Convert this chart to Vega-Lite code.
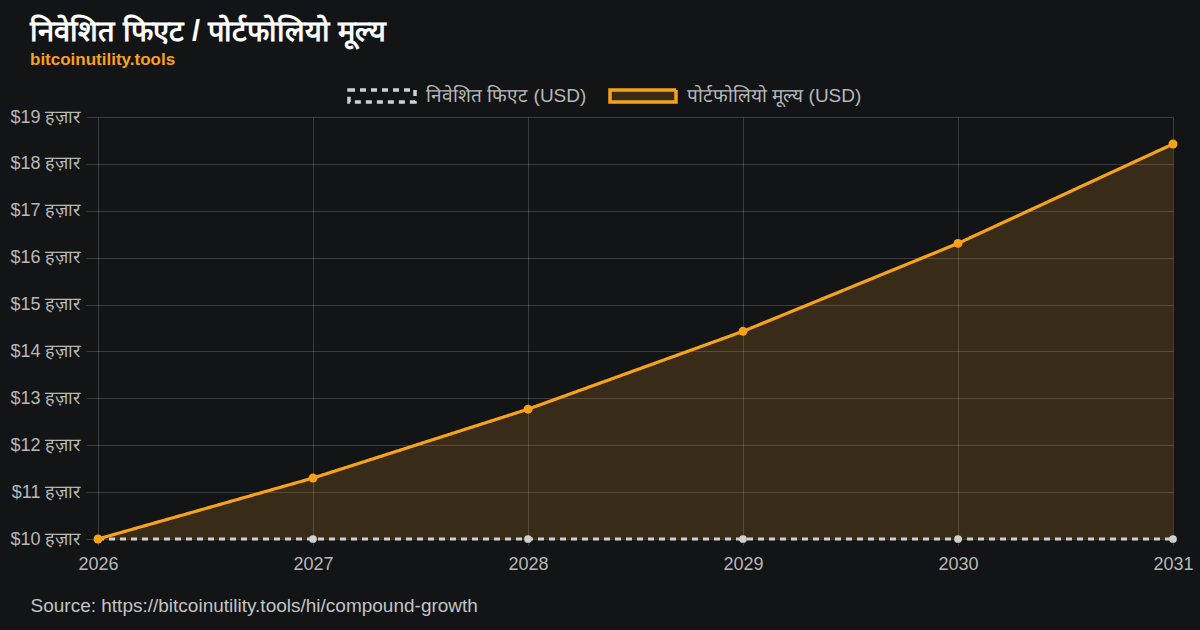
{
  "$schema": "https://vega.github.io/schema/vega-lite/v6.json",
  "autosize": {"type": "none"},
  "width": 1075,
  "height": 422,
  "padding": {"left": 98, "top": 117, "right": 27, "bottom": 91},
  "background": "#121416",
  "title": {
    "text": "निवेशित फिएट / पोर्टफोलियो मूल्य",
    "subtitle": "bitcoinutility.tools",
    "anchor": "start",
    "frame": "group",
    "dx": -68,
    "dy": 28,
    "color": "#ffffff",
    "fontSize": 29,
    "fontWeight": "bold",
    "font": "Liberation Sans",
    "subtitleColor": "#f7a21b",
    "subtitleFontSize": 17,
    "subtitleFontWeight": "bold",
    "subtitleFont": "Liberation Sans",
    "subtitlePadding": 5,
    "offset": 21
  },
  "config": {
    "view": {"stroke": null},
    "font": "Liberation Sans",
    "axis": {
      "labelColor": "#b8b8b8",
      "labelFontSize": 18,
      "labelFont": "Liberation Sans",
      "gridColor": "#ffffff",
      "gridOpacity": 0.17,
      "domain": false,
      "tickColor": "#ffffff",
      "tickOpacity": 0.17
    }
  },
  "data": {
    "values": [
      {"year": 2026, "series": "निवेशित फिएट (USD)", "value": 10000},
      {"year": 2027, "series": "निवेशित फिएट (USD)", "value": 10000},
      {"year": 2028, "series": "निवेशित फिएट (USD)", "value": 10000},
      {"year": 2029, "series": "निवेशित फिएट (USD)", "value": 10000},
      {"year": 2030, "series": "निवेशित फिएट (USD)", "value": 10000},
      {"year": 2031, "series": "निवेशित फिएट (USD)", "value": 10000},
      {"year": 2026, "series": "पोर्टफोलियो मूल्य (USD)", "value": 10000},
      {"year": 2027, "series": "पोर्टफोलियो मूल्य (USD)", "value": 11300},
      {"year": 2028, "series": "पोर्टफोलियो मूल्य (USD)", "value": 12769},
      {"year": 2029, "series": "पोर्टफोलियो मूल्य (USD)", "value": 14429},
      {"year": 2030, "series": "पोर्टफोलियो मूल्य (USD)", "value": 16305},
      {"year": 2031, "series": "पोर्टफोलियो मूल्य (USD)", "value": 18424}
    ]
  },
  "encoding": {
    "x": {
      "field": "year",
      "type": "quantitative",
      "scale": {"domain": [2026, 2031], "nice": false, "zero": false},
      "axis": {
        "values": [2026, 2027, 2028, 2029, 2030, 2031],
        "format": "d",
        "labelFlush": false,
        "labelPadding": 10,
        "tickSize": 6,
        "title": "Source: https://bitcoinutility.tools/hi/compound-growth",
        "titleColor": "#c4c4c4",
        "titleFontSize": 19,
        "titleFontWeight": "normal",
        "titleAnchor": "start",
        "titleAlign": "left",
        "titleBaseline": "alphabetic",
        "titleX": -68,
        "titleY": 72
      }
    },
    "y": {
      "field": "value",
      "type": "quantitative",
      "scale": {"domain": [10000, 19000], "nice": false, "zero": false},
      "axis": {
        "values": [10000, 11000, 12000, 13000, 14000, 15000, 16000, 17000, 18000, 19000],
        "labelExpr": "'$' + format(datum.value / 1000, 'd') + ' हज़ार'",
        "title": null,
        "tickSize": 12,
        "labelPadding": 6
      }
    }
  },
  "layer": [
    {
      "transform": [{"filter": "datum.series === 'पोर्टफोलियो मूल्य (USD)'"}],
      "mark": {"type": "area", "color": "#f7a21b", "opacity": 0.17},
      "encoding": {"y2": {"datum": 10000}}
    },
    {
      "mark": {"type": "line", "strokeWidth": 3.2},
      "encoding": {
        "color": {
          "field": "series",
          "type": "nominal",
          "scale": {
            "domain": ["निवेशित फिएट (USD)", "पोर्टफोलियो मूल्य (USD)"],
            "range": ["#d0d0d0", "#f7a21b"]
          },
          "legend": {
            "title": null,
            "orient": "none",
            "direction": "horizontal",
            "legendX": 249,
            "legendY": -56,
            "labelColor": "#b8b8b8",
            "labelFontSize": 19,
            "labelFont": "Liberation Sans",
            "labelLimit": 400,
            "symbolType": "M-1,-0.18L1,-0.18L1,0.18L-1,0.18Z",
            "symbolSize": 4356,
            "symbolStrokeWidth": 3,
            "labelOffset": 9,
            "columnPadding": 16,
            "symbolOpacity": 1,
            "encode": {
              "symbols": {
                "update": {
                  "fill": {"signal": "datum.value === 'पोर्टफोलियो मूल्य (USD)' ? '#3a2c14' : 'transparent'"},
                  "strokeDash": {"signal": "datum.value === 'पोर्टफोलियो मूल्य (USD)' ? [1, 0] : [6, 5]"},
                  "strokeWidth": {"value": 3.5},
                  "opacity": {"value": 1}
                }
              }
            }
          }
        },
        "strokeDash": {
          "field": "series",
          "type": "nominal",
          "scale": {
            "domain": ["निवेशित फिएट (USD)", "पोर्टफोलियो मूल्य (USD)"],
            "range": [[6, 5], [1, 0]]
          },
          "legend": null
        }
      }
    },
    {
      "transform": [{"filter": "datum.series === 'निवेशित फिएट (USD)'"}],
      "mark": {"type": "point", "filled": true, "color": "#d0d0d0", "size": 60, "opacity": 1}
    },
    {
      "transform": [{"filter": "datum.series === 'पोर्टफोलियो मूल्य (USD)'"}],
      "mark": {"type": "point", "filled": true, "color": "#f7a21b", "size": 80, "opacity": 1}
    }
  ]
}
